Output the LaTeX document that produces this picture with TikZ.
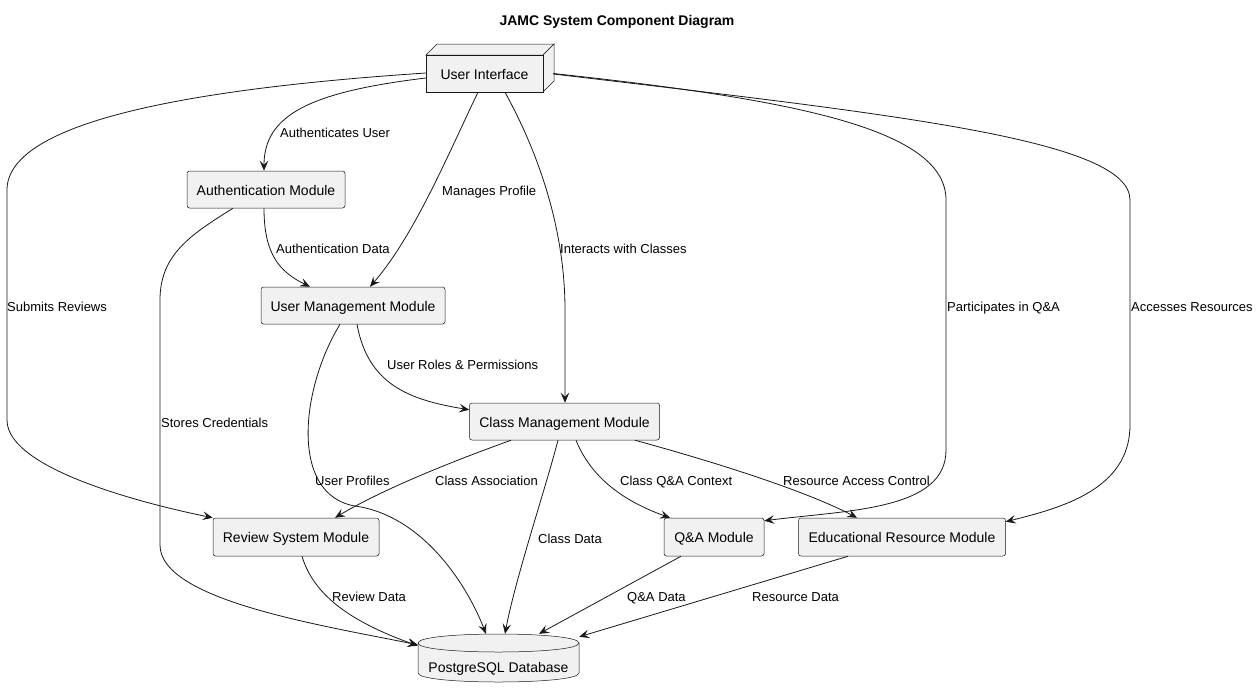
\documentclass[tikz,border=0pt]{standalone}
\usepackage{fontspec}
\setmainfont{Liberation Sans}
\usetikzlibrary{arrows.meta}
\definecolor{boxfill}{HTML}{F1F1F1}
\definecolor{linec}{HTML}{181818}
\newcommand{\myNodeFont}{\fontsize{14}{16}\selectfont}
\newcommand{\myLblFont}{\fontsize{13}{15}\selectfont}
\begin{document}
\begin{tikzpicture}[x=1pt,y=-1pt,
  box/.style={draw=linec, fill=boxfill, line width=0.5pt, rounded corners=2.5pt, inner sep=0pt, font=\myNodeFont, text height=12pt, text depth=1pt},
  elabel/.style={anchor=west, inner sep=0pt, font=\myLblFont, text height=11.5pt, text depth=0.8pt},
  edge/.style={draw=linec, line width=0.8pt, -{Stealth[length=10pt,width=8.5pt,inset=4pt]}}]
\useasboundingbox[fill=white] (0,0) rectangle (1259,697);

% title
\node[font=\fontsize{14}{16}\selectfont\bfseries, inner sep=0pt] (title) at (617,21.5) {JAMC System Component Diagram};

% User Interface (3D box)
\filldraw[fill=boxfill, draw=linec, line width=0.5pt] (426,55) -- (437,44) -- (554,44) -- (543,55) -- cycle;
\filldraw[fill=boxfill, draw=linec, line width=0.5pt] (543,55) -- (554,44) -- (554,81) -- (543,92) -- cycle;
\node[box, rounded corners=0pt, minimum width=117pt, minimum height=37pt] (ui) at (484.5,73.5) {User Interface};

% modules
\node[box, minimum width=158pt, minimum height=37pt] (auth) at (266,189.5) {Authentication Module};
\node[box, minimum width=184pt, minimum height=37pt] (um) at (353,305.5) {User Management Module};
\node[box, minimum width=190pt, minimum height=37pt] (cm) at (564.5,421.5) {Class Management Module};
\node[box, minimum width=166pt, minimum height=38pt] (rev) at (296,537) {Review System Module};
\node[box, minimum width=100pt, minimum height=38pt] (qa) at (714,537) {Q\&A Module};
\node[box, minimum width=207pt, minimum height=38pt] (edu) at (902,537) {Educational Resource Module};

% database cylinder
\filldraw[fill=boxfill, draw=linec, line width=0.5pt] (418,643) -- (418,673) .. controls (418,685) and (579,685) .. (579,673) -- (579,643) .. controls (579,631) and (418,631) .. cycle;
\draw[draw=linec, line width=0.5pt] (418,643) .. controls (418,655) and (579,655) .. (579,643);
\node[inner sep=0pt, minimum width=161pt, minimum height=48pt] (db) at (498.5,658) {};
\node[font=\myNodeFont, inner sep=0pt, text height=12pt, text depth=1pt] (dbtext) at (498.5,667) {PostgreSQL Database};

% edges from User Interface
\draw[edge] ([yshift=-4.5pt]ui.west) .. controls (310,92) and (264,115) .. ([xshift=-2pt]auth.north);
\draw[edge] ([xshift=-6.5pt]ui.south) .. controls (450,150) and (415,235) .. ([xshift=17pt]um.north);
\draw[edge] ([xshift=20.5pt]ui.south) .. controls (545,165) and (565,240) .. (565,310) -- ([xshift=0.5pt]cm.north);
\draw[edge] ([yshift=0.5pt]ui.west) .. controls (200,88) and (7,120) .. (7,190) -- (7,420) .. controls (7,470) and (150,505) .. (rev.north west);
\draw[edge] ([xshift=10pt]ui.east) .. controls (800,100) and (946,130) .. (946,200) -- (946,450) .. controls (946,510) and (850,510) .. ([yshift=-3pt]qa.north east);
\draw[edge] ([xshift=10pt,yshift=-0.5pt]ui.east) .. controls (900,115) and (1130,140) .. (1130,200) -- (1130,425) .. controls (1130,490) and (1060,508) .. ([yshift=-4pt]edu.north east);

% other edges
\draw[edge] ([xshift=-2pt]auth.south) .. controls (264,255) and (280,272) .. ([xshift=-43pt]um.north);
\draw[edge] ([xshift=-33pt]auth.south) .. controls (190,235) and (160,255) .. (160,300) -- (160,545) .. controls (160,600) and (320,625) .. ([yshift=-11pt]db.north west);
\draw[edge] ([xshift=4pt]um.south) .. controls (368,385) and (410,400) .. ([yshift=-7pt]cm.north west);
\draw[edge] ([xshift=-13pt]um.south) .. controls (300,390) and (290,495) .. (355,506) .. controls (420,515) and (465,580) .. ([xshift=-12.5pt]db.north);
\draw[edge] ([xshift=-53.5pt]cm.south) .. controls (470,455) and (390,485) .. ([xshift=39pt]rev.north);
\draw[edge] ([xshift=-6.5pt]cm.south) .. controls (545,490) and (515,580) .. ([xshift=6.5pt]db.north);
\draw[edge] ([xshift=11.5pt]cm.south) .. controls (590,475) and (620,500) .. ([xshift=-44pt]qa.north);
\draw[edge] ([xshift=70.5pt]cm.south) .. controls (700,458) and (800,488) .. ([xshift=-45pt]edu.north);
\draw[edge] ([xshift=6pt]rev.south) .. controls (315,600) and (360,625) .. ([yshift=-12pt]db.north west);
\draw[edge] ([xshift=-33pt]qa.south) -- ([xshift=40.5pt]db.north);
\draw[edge] ([xshift=-54pt]edu.south) -- ([yshift=-3pt]db.north east);

% edge labels
\node[elabel] (l1) at (280,132) {Authenticates User};
\node[elabel] (l2) at (442,190) {Manages Profile};
\node[elabel] (l3) at (560,248) {Interacts with Classes};
\node[elabel] (l4) at (276,248) {Authentication Data};
\node[elabel] (l5) at (387,364) {User Roles \& Permissions};
\node[elabel] (l6) at (7,306) {Submits Reviews};
\node[elabel] (l7) at (161,422) {Stores Credentials};
\node[elabel] (l8) at (315,480) {User Profiles};
\node[elabel] (l9) at (435,480) {Class Association};
\node[elabel] (l10) at (620,480) {Class Q\&A Context};
\node[elabel] (l11) at (783,480) {Resource Access Control};
\node[elabel] (l12) at (538,538) {Class Data};
\node[elabel] (l13) at (947,306) {Participates in Q\&A};
\node[elabel] (l14) at (1131,306) {Accesses Resources};
\node[elabel] (l15) at (332,596) {Review Data};
\node[elabel] (l16) at (627,596) {Q\&A Data};
\node[elabel] (l17) at (752,596) {Resource Data};
\end{tikzpicture}
\end{document}
